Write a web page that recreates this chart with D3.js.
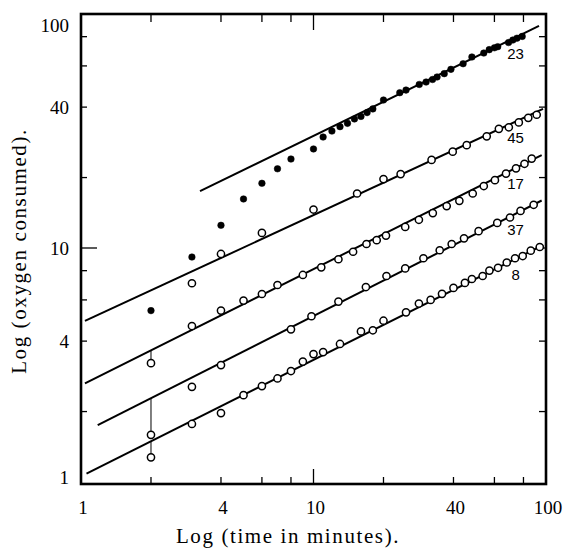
<!DOCTYPE html>
<html>
<head>
<meta charset="utf-8">
<script src="https://cdn.jsdelivr.net/npm/d3@7"></script>
<style>
  body { margin: 0; background: #fff; }
  svg { display: block; }
</style>
</head>
<body>
<svg id="chart" width="569" height="549"></svg>
<script>
// tick values / labels
const xTicks = [2, 4, 6, 8, 10, 20, 40, 60, 80];
const yTicks = [2, 4, 6, 8, 10, 20, 40, 60, 80];
const xTickLabels = [1, 4, 10, 40, 100];
const yTickLabels = [1, 4, 10, 40, 100];

// series 23 (filled dots)
const s23x = [2, 3, 4, 5, 6, 7, 8, 10, 11, 12, 13, 14, 15, 16, 17, 18, 20, 23.5, 25, 28.5, 30.5, 32.5, 34, 36.5, 39, 44, 48, 54, 57, 60, 62, 69, 72, 75, 79];
const s23y = [5.4, 9.15, 12.5, 16.2, 18.9, 21.8, 24.0, 26.5, 29.8, 31.6, 33.0, 34.1, 35.6, 36.5, 37.9, 39.3, 42.9, 46.1, 47.3, 50.0, 51.2, 52.5, 53.8, 55.6, 58.0, 61.3, 65.5, 68.1, 70.4, 71.7, 72.5, 75.5, 77.4, 78.8, 80.2];

// series 45
const s45x = [3, 4, 6, 10, 15.4, 20, 23.7, 32.2, 39.7, 45.6, 55.6, 62.7, 69.2, 76.4, 83.9, 91.2];
const s45y = [7.07, 9.43, 11.6, 14.6, 17.1, 19.7, 20.7, 23.8, 25.8, 27.5, 30.0, 32.3, 32.8, 34.4, 36.0, 37.1];

// series 17
const s17x = [2, 3, 4, 5, 6, 7, 9, 10.8, 12.8, 14.8, 16.9, 18.7, 20.5, 24.8, 28.4, 32.6, 37.4, 42.4, 48.4, 54, 60.3, 67.3, 74.3, 80.8, 86.8];
const s17y = [3.22, 4.64, 5.40, 5.96, 6.36, 6.95, 7.67, 8.27, 8.95, 9.64, 10.4, 10.8, 11.3, 12.3, 13.2, 14.1, 15.1, 15.9, 17.1, 18.4, 19.5, 20.8, 21.9, 22.9, 24.1];

// series 37
const s37x = [2, 3, 4, 8, 9.8, 12.8, 16.8, 20.6, 24.8, 29.7, 34.9, 39.3, 44.4, 51.3, 61.7, 70, 77.7, 88.5];
const s37y = [1.59, 2.55, 3.16, 4.49, 5.11, 5.90, 6.81, 7.59, 8.18, 9.04, 9.78, 10.4, 11.0, 11.8, 12.8, 13.5, 14.4, 15.3];

// series 8
const s8x = [2, 3, 4, 5, 6, 7, 8, 9, 10, 11, 13, 16, 18, 20, 25, 28.4, 31.9, 35.7, 40, 44.8, 48, 53.4, 57.1, 62.2, 67.8, 73.6, 79.4, 86, 94];
const s8y = [1.275, 1.77, 1.97, 2.35, 2.57, 2.77, 2.98, 3.27, 3.52, 3.59, 3.89, 4.40, 4.45, 4.89, 5.31, 5.79, 6.00, 6.37, 6.75, 7.09, 7.37, 7.59, 8.01, 8.23, 8.67, 9.04, 9.24, 9.74, 10.1];

// fitted straight lines (start, end)
const fit23 = [[3.25, 17.5], [93.3, 88.9]];
const fit45 = [[1.04, 4.88], [97.1, 39.3]];
const fit17 = [[1.04, 2.64], [95.8, 24.96]];
const fit37 = [[1.18, 1.75], [95.8, 15.96]];
const fit8 = [[1.056, 1.087], [97.3, 10.3]];

const seriesNames = ["23", "45", "17", "37", "8"];
const dropX = 2; // first readings joined to their line

const series = [
  { name: seriesNames[0], xs: s23x, ys: s23y, fit: fit23, filled: true, drop: false },
  { name: seriesNames[1], xs: s45x, ys: s45y, fit: fit45, filled: false, drop: false },
  { name: seriesNames[2], xs: s17x, ys: s17y, fit: fit17, filled: false, drop: true },
  { name: seriesNames[3], xs: s37x, ys: s37y, fit: fit37, filled: false, drop: true },
  { name: seriesNames[4], xs: s8x, ys: s8y, fit: fit8, filled: false, drop: true }
];

const svg = d3.select("#chart");
const box = { left: 81, right: 546, top: 14, bottom: 484 };

const x = d3.scaleLog().domain([1, 100]).range([box.left, box.right]);
const y = d3.scaleLog().domain([1, 100]).range([482, box.top]);

// value of a fitted line at t (straight in log-log)
function lineAt(fit, t) {
  const [a, b] = fit;
  const k = (Math.log10(b[1]) - Math.log10(a[1])) / (Math.log10(b[0]) - Math.log10(a[0]));
  return Math.pow(10, Math.log10(a[1]) + k * (Math.log10(t) - Math.log10(a[0])));
}

// frame
svg.append("rect")
  .attr("x", box.left).attr("y", box.top)
  .attr("width", box.right - box.left).attr("height", box.bottom - box.top)
  .attr("fill", "none").attr("stroke", "#000").attr("stroke-width", 2.6);

const ticks = svg.append("g").attr("stroke", "#000").attr("stroke-width", 1.3);
xTicks.forEach(v => {
  const len = v === 10 ? 15 : 7;
  ticks.append("line").attr("x1", x(v)).attr("x2", x(v)).attr("y1", box.bottom).attr("y2", box.bottom - len);
  ticks.append("line").attr("x1", x(v)).attr("x2", x(v)).attr("y1", box.top).attr("y2", box.top + (v === 10 ? 16 : 8));
});
yTicks.forEach(v => {
  ticks.append("line").attr("x1", box.left).attr("x2", box.left + (v === 10 ? 16 : 6)).attr("y1", y(v)).attr("y2", y(v));
  ticks.append("line").attr("x1", box.right).attr("x2", box.right - 7).attr("y1", y(v)).attr("y2", y(v));
});

// tick labels
const serif = "'Liberation Serif', 'Times New Roman', serif";
svg.append("g").selectAll("text").data(xTickLabels).join("text")
  .attr("x", d => x(d) + 2)
  .attr("y", 514)
  .attr("text-anchor", "middle")
  .attr("font-family", serif).attr("font-size", 19)
  .text(d => d);

svg.append("g").selectAll("text").data(yTickLabels).join("text")
  .attr("x", 69)
  .attr("y", d => Math.min(Math.max(y(d), box.top + 11), box.bottom - 7) + 6.5)
  .attr("text-anchor", "end")
  .attr("font-family", serif).attr("font-size", 19)
  .text(d => d);

// axis titles
svg.append("text")
  .attr("x", 288).attr("y", 543)
  .attr("text-anchor", "middle")
  .attr("font-family", serif).attr("font-size", 21)
  .attr("letter-spacing", 1.6)
  .text("Log (time in minutes).");

svg.append("text")
  .attr("transform", "translate(26,251) rotate(-90)")
  .attr("text-anchor", "middle")
  .attr("font-family", serif).attr("font-size", 21)
  .attr("letter-spacing", 1.6)
  .text("Log (oxygen consumed).");

// fitted lines
const line = d3.line().x(d => x(d[0])).y(d => y(d[1]));
svg.append("g").selectAll("path").data(series).join("path")
  .attr("d", d => line(d.fit))
  .attr("fill", "none").attr("stroke", "#000").attr("stroke-width", 2);

// drop lines from the fitted line to the first reading
svg.append("g").selectAll("line").data(series.filter(s => s.drop)).join("line")
  .attr("x1", x(dropX)).attr("x2", x(dropX))
  .attr("y1", d => y(lineAt(d.fit, dropX)))
  .attr("y2", d => y(d.ys[d.xs.indexOf(dropX)]) - 3.6)
  .attr("stroke", "#000").attr("stroke-width", 1);

// points
series.forEach(s => {
  const pts = s.xs.map((v, i) => [v, s.ys[i]]);
  svg.append("g").selectAll("circle").data(pts).join("circle")
    .attr("cx", d => x(d[0])).attr("cy", d => y(d[1]))
    .attr("r", s.filled ? 3.3 : 3.6)
    .attr("fill", s.filled ? "#000" : "#fff")
    .attr("stroke", "#000").attr("stroke-width", s.filled ? 0.5 : 1.5);
});

// series labels, just below each line near the right edge
const labelX = 74;
svg.append("g").selectAll("text").data(series).join("text")
  .attr("x", x(labelX))
  .attr("y", d => y(lineAt(d.fit, labelX)) + 16)
  .attr("dy", "0.35em")
  .attr("text-anchor", "middle")
  .attr("font-family", "'Liberation Sans', Arial, sans-serif")
  .attr("font-size", 15)
  .text(d => d.name);
</script>
</body>
</html>
